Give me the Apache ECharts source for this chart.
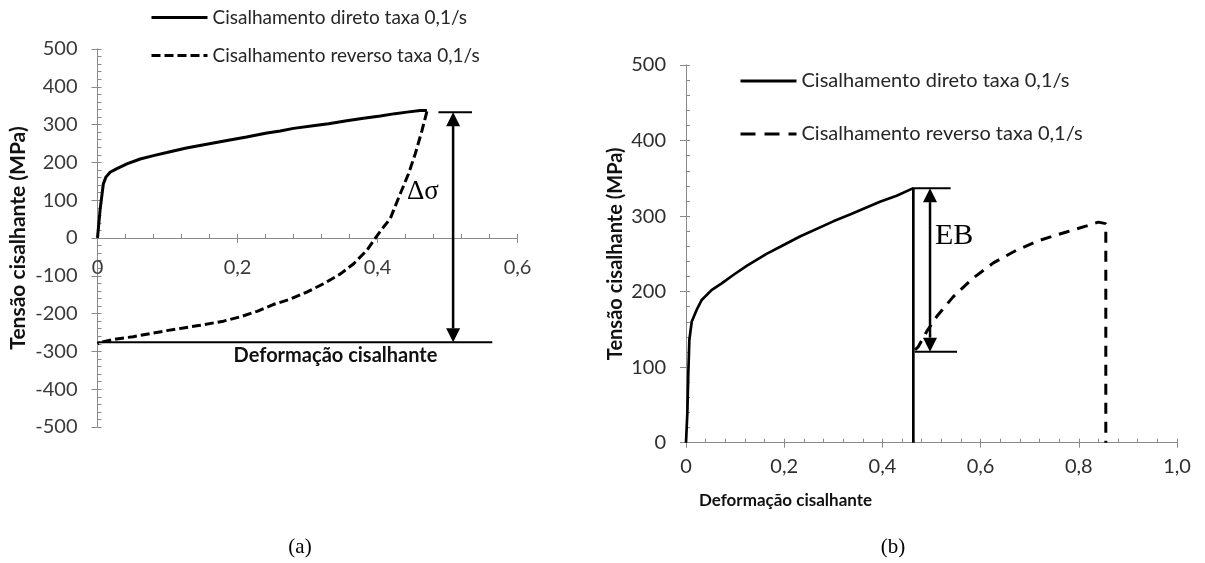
<!DOCTYPE html>
<html>
<head>
<meta charset="utf-8">
<script src="https://cdn.jsdelivr.net/npm/echarts@6/dist/echarts.min.js"></script>
<style>
  html, body { margin: 0; padding: 0; background: #fff; }
  #chart { width: 1205px; height: 563px; }
</style>
</head>
<body>
<div id="chart"></div>
<script>
// Series names (legend text)
const NAME_DIRECT = 'Cisalhamento direto taxa 0,1/s';
const NAME_REVERSE = 'Cisalhamento reverso taxa 0,1/s';

// Panel (a): [shear strain, shear stress MPa]
const directA = [
  [0, 0], [0.0036, 73], [0.0083, 143], [0.012, 161], [0.018, 174], [0.027, 183],
  [0.042, 196], [0.061, 209], [0.080, 218], [0.099, 226], [0.127, 238], [0.156, 248],
  [0.185, 258], [0.213, 267], [0.242, 278], [0.261, 283], [0.280, 290], [0.308, 297],
  [0.330, 302], [0.356, 310], [0.380, 317], [0.404, 323], [0.425, 329], [0.442, 333],
  [0.461, 337], [0.4706, 337]
];
const reverseA = [
  [0.4706, 335], [0.4635, 284], [0.454, 223], [0.4443, 170], [0.4325, 117], [0.4229, 73],
  [0.4182, 51], [0.4086, 29], [0.399, 5], [0.385, -32], [0.366, -68], [0.347, -95],
  [0.323, -121], [0.299, -143], [0.275, -162], [0.251, -176], [0.228, -194], [0.205, -208],
  [0.180, -220], [0.1465, -231], [0.1227, -238], [0.099, -245], [0.075, -253], [0.051, -261],
  [0.027, -267], [0.0036, -276], [0, -280]
];

// Panel (b): [shear strain, shear stress MPa]
const directB = [
  [0, 0], [0.0027, 39], [0.0047, 92], [0.0068, 136], [0.0116, 160], [0.0218, 176],
  [0.032, 189], [0.052, 202], [0.0727, 211], [0.0963, 222], [0.1236, 234], [0.164, 250],
  [0.191, 259], [0.232, 273], [0.300, 293], [0.334, 302], [0.395, 319], [0.429, 327],
  [0.463, 337], [0.463, 0]
];
const reverseB = [
  [0.4664, 123], [0.473, 127], [0.490, 147], [0.5106, 167], [0.544, 193], [0.585, 218],
  [0.626, 238], [0.6735, 255], [0.7206, 268], [0.775, 279], [0.816, 287], [0.8397, 292],
  [0.855, 290], [0.855, 0]
];

// Axis ranges: [min, max, step]
const strainAxisA = [0, 0.6, 0.2];
const stressAxisA = [-500, 500, 100];
const strainAxisB = [0, 1.0, 0.2];
const stressAxisB = [0, 500, 100];

// Annotations, in data units
// caps: [strain from, strain to, stress]
const capsA = [[0.487, 0.535, 333], [0, 0.564, -276]];
const arrowsA = [[0.508, 333, -276]];       // [strain, stress top, stress bottom]
const notesA = [[0.442, 121]];               // [strain, stress]
const noteTextA = ['\u0394\u03c3'];

const capsB = [[0.463, 0.539, 337], [0.466, 0.552, 120.5]];
const arrowsB = [[0.497, 337, 120.5]];
const notesB = [[0.507, 274]];
const noteTextB = ['EB'];

const AXIS_GREY = '#8a8a8a';
const SANS = 'Lato, "Open Sans", sans-serif';
const SERIF = '"Liberation Serif", "DejaVu Serif", serif';

// Plot areas (px)
const GRID_A = { left: 97.5, top: 49, width: 420, height: 378 };
const GRID_B = { left: 686, top: 65, width: 491, height: 377.7 };

function strainLabel(v) {
  if (v === 0) return '0';
  return v.toFixed(1).replace('.', ',');
}

function valueAxes(gridIndex, range, opts, innerOpts) {
  // main axis: labels, line, outward major ticks
  const main = Object.assign({
    gridIndex: gridIndex, type: 'value',
    min: range[0], max: range[1], interval: range[2],
    axisLine: { show: true, onZero: false, lineStyle: { color: AXIS_GREY, width: 1 } },
    axisTick: { show: true, inside: false, length: 6, lineStyle: { color: AXIS_GREY, width: 1 } },
    minorTick: { show: false },
    splitLine: { show: false },
    nameMoveOverlap: false,
    axisLabel: { show: true, fontFamily: SANS, fontSize: 20, color: '#3a3a3a' }
  }, opts);
  // companion axis: inward major + minor ticks
  const inner = Object.assign({
    gridIndex: gridIndex, type: 'value',
    position: main.position, offset: main.offset || 0,
    min: range[0], max: range[1], interval: range[2],
    axisLine: { show: true, onZero: false, lineStyle: { color: AXIS_GREY, width: 1 } },
    axisTick: { show: true, inside: true, length: 4, lineStyle: { color: AXIS_GREY, width: 1 } },
    minorTick: { show: true, splitNumber: 5, length: 4, lineStyle: { color: AXIS_GREY, width: 1 } },
    splitLine: { show: false },
    axisLabel: { show: false }
  }, innerOpts || {});
  return [main, inner];
}

function renderCap(params, api) {
  const p1 = api.coord([api.value(0), api.value(2)]);
  const p2 = api.coord([api.value(1), api.value(2)]);
  return {
    type: 'line',
    shape: { x1: p1[0], y1: p1[1], x2: p2[0], y2: p2[1] },
    style: { stroke: '#000', lineWidth: 2 }
  };
}

function renderArrow(params, api) {
  const a = api.coord([api.value(0), api.value(1)]);
  const b = api.coord([api.value(0), api.value(2)]);
  const head = 14, half = 7;
  const dir = b[1] > a[1] ? 1 : -1;
  return {
    type: 'group',
    children: [
      { type: 'line', shape: { x1: a[0], y1: a[1] + dir * head, x2: b[0], y2: b[1] - dir * head },
        style: { stroke: '#000', lineWidth: 2.5 } },
      { type: 'polygon', shape: { points: [[a[0], a[1]], [a[0] - half, a[1] + dir * head], [a[0] + half, a[1] + dir * head]] },
        style: { fill: '#000' } },
      { type: 'polygon', shape: { points: [[b[0], b[1]], [b[0] - half, b[1] - dir * head], [b[0] + half, b[1] - dir * head]] },
        style: { fill: '#000' } }
    ]
  };
}

function noteRenderer(texts, size) {
  return function (params, api) {
    const p = api.coord([api.value(0), api.value(1)]);
    return {
      type: 'text', x: p[0], y: p[1],
      style: { text: texts[params.dataIndex], fontFamily: SERIF, fontSize: size, fill: '#000',
               align: 'left', verticalAlign: 'middle' }
    };
  };
}

// x axis of (a) crosses the stress axis at zero (middle of the plot area)
const xAOffset = -GRID_A.height * (0 - stressAxisA[0]) / (stressAxisA[1] - stressAxisA[0]);

const xA = valueAxes(0, strainAxisA, {
  position: 'bottom', offset: xAOffset,
  axisLabel: { show: true, margin: 20, fontFamily: SANS, fontSize: 20, color: '#3a3a3a', formatter: strainLabel },
  axisTick: { show: true, inside: false, length: 5, lineStyle: { color: AXIS_GREY, width: 1 } },
  name: 'Deformação cisalhante', nameLocation: 'middle', nameGap: 108,
  nameTextStyle: { fontFamily: SANS, fontWeight: 'bold', fontSize: 20, color: '#111', padding: [0, 0, 0, 56] }
});
const yA = valueAxes(0, stressAxisA, {
  position: 'left',
  axisLabel: { show: true, margin: 20, fontFamily: SANS, fontSize: 20, color: '#3a3a3a' },
  name: 'Tensão cisalhante (MPa)', nameLocation: 'middle', nameGap: 69,
  nameTextStyle: { fontFamily: SANS, fontWeight: 'bold', fontSize: 21, color: '#111' }
});
const xB = valueAxes(1, strainAxisB, {
  position: 'bottom',
  axisLabel: { show: true, margin: 14, fontFamily: SANS, fontSize: 20, color: '#2e2e2e', formatter: strainLabel },
  axisTick: { show: true, inside: false, length: 5, lineStyle: { color: AXIS_GREY, width: 1 } },
  name: 'Deformação cisalhante', nameLocation: 'middle', nameGap: 49,
  nameTextStyle: { fontFamily: SANS, fontWeight: 'bold', fontSize: 17, color: '#111', padding: [0, 292, 0, 0] }
});
const yB = valueAxes(1, stressAxisB, {
  position: 'left',
  axisLabel: { show: true, margin: 20, fontFamily: SANS, fontSize: 20, color: '#2e2e2e' },
  name: 'Tensão cisalhante (MPa)', nameLocation: 'middle', nameGap: 60,
  nameTextStyle: { fontFamily: SANS, fontWeight: 'bold', fontSize: 20, color: '#111' }
});

const option = {
  animation: false,
  backgroundColor: '#fff',
  title: [
    { text: '(a)', left: 300, top: 537, textAlign: 'center', padding: 0,
      textStyle: { fontFamily: SERIF, fontWeight: 'normal', fontSize: 21, color: '#000' } },
    { text: '(b)', left: 893, top: 537, textAlign: 'center', padding: 0,
      textStyle: { fontFamily: SERIF, fontWeight: 'normal', fontSize: 21, color: '#000' } }
  ],
  legend: [
    {
      left: 150, top: 8, orient: 'vertical', padding: 0,
      itemWidth: 56, itemHeight: 14, itemGap: 19, selectedMode: false,
      itemStyle: { opacity: 0 },
      lineStyle: { width: 3 },
      textStyle: { fontFamily: SANS, fontSize: 19, color: '#262626' },
      data: [{ name: NAME_DIRECT }, { name: NAME_REVERSE }]
    },
    {
      left: 739, top: 71, orient: 'vertical', padding: 0,
      itemWidth: 56, itemHeight: 14, itemGap: 33, selectedMode: false,
      itemStyle: { opacity: 0 },
      lineStyle: { width: 3 },
      textStyle: { fontFamily: SANS, fontSize: 20, color: '#262626' },
      data: [
        { name: NAME_DIRECT, lineStyle: { type: 'solid', width: 3 } },
        { name: NAME_REVERSE, lineStyle: { type: [15, 9], width: 3 } }
      ]
    }
  ],
  grid: [
    Object.assign({ outerBoundsMode: 'none' }, GRID_A),
    Object.assign({ outerBoundsMode: 'none' }, GRID_B)
  ],
  xAxis: [xA[0], xA[1], xB[0], xB[1]],
  yAxis: [yA[0], yA[1], yB[0], yB[1]],
  series: [
    { type: 'line', name: NAME_DIRECT, xAxisIndex: 0, yAxisIndex: 0, data: directA,
      symbol: 'none', itemStyle: { color: '#000' }, lineStyle: { color: '#000', width: 3, type: 'solid' }, z: 5 },
    { type: 'line', name: NAME_REVERSE, xAxisIndex: 0, yAxisIndex: 0, data: reverseA,
      symbol: 'none', itemStyle: { color: '#000' }, lineStyle: { color: '#000', width: 3, type: [9, 4] }, z: 5 },
    { type: 'custom', name: 'capsA', xAxisIndex: 0, yAxisIndex: 0, data: capsA, silent: true, clip: false,
      encode: { x: [0, 1], y: 2 }, renderItem: renderCap },
    { type: 'custom', name: 'arrowsA', xAxisIndex: 0, yAxisIndex: 0, data: arrowsA, silent: true, clip: false,
      encode: { x: 0, y: [1, 2] }, renderItem: renderArrow },
    { type: 'custom', name: 'notesA', xAxisIndex: 0, yAxisIndex: 0, data: notesA, silent: true, clip: false,
      encode: { x: 0, y: 1 }, renderItem: noteRenderer(noteTextA, 27) },

    { type: 'line', name: NAME_DIRECT, xAxisIndex: 2, yAxisIndex: 2, data: directB,
      symbol: 'none', itemStyle: { color: '#000' }, lineStyle: { color: '#000', width: 2.7, type: 'solid' }, z: 5 },
    { type: 'line', name: NAME_REVERSE, xAxisIndex: 2, yAxisIndex: 2, data: reverseB,
      symbol: 'none', itemStyle: { color: '#000' }, lineStyle: { color: '#000', width: 3, type: [11, 8] }, z: 5 },
    { type: 'custom', name: 'capsB', xAxisIndex: 2, yAxisIndex: 2, data: capsB, silent: true, clip: false,
      encode: { x: [0, 1], y: 2 }, renderItem: renderCap },
    { type: 'custom', name: 'arrowsB', xAxisIndex: 2, yAxisIndex: 2, data: arrowsB, silent: true, clip: false,
      encode: { x: 0, y: [1, 2] }, renderItem: renderArrow },
    { type: 'custom', name: 'notesB', xAxisIndex: 2, yAxisIndex: 2, data: notesB, silent: true, clip: false,
      encode: { x: 0, y: 1 }, renderItem: noteRenderer(noteTextB, 30) }
  ]
};

const chart = echarts.init(document.getElementById('chart'), null, { renderer: 'canvas' });
chart.setOption(option);
</script>
</body>
</html>
